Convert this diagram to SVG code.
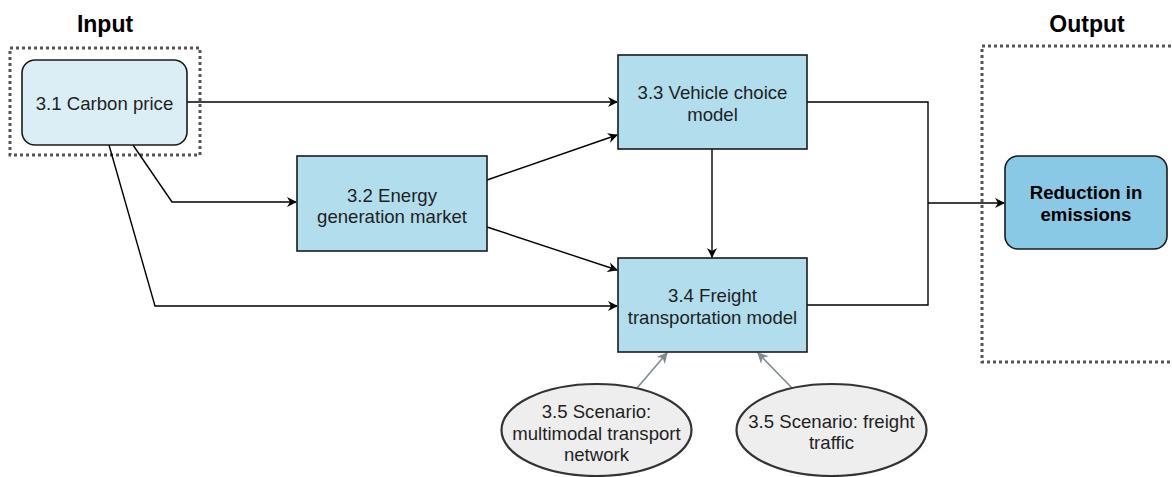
<svg xmlns="http://www.w3.org/2000/svg" width="1172" height="477" viewBox="0 0 1172 477">
  <style>
    .lbl { font-family: "Liberation Sans", Arial, sans-serif; font-size: 18.6px; fill: #1f1f1f; text-anchor: middle; }
    .ttl { font-family: "Liberation Sans", Arial, sans-serif; font-size: 23px; font-weight: bold; fill: #000; text-anchor: middle; }
    .bold { font-weight: bold; fill: #000; }
    .box { fill: #b1dded; stroke: #1a1a1a; stroke-width: 1.6; }
    .frame { fill: none; stroke: #555; stroke-width: 3; stroke-dasharray: 3 3; }
    .edge { fill: none; stroke: #000; stroke-width: 1.4; }
    .gray { fill: none; stroke: #7f8a90; stroke-width: 1.6; }
    .scn { fill: #eeeeee; stroke: #333; stroke-width: 2.2; }
  </style>
  <defs>
    <marker id="arr" viewBox="0 0 10 10" refX="9" refY="5" markerWidth="10" markerHeight="10" markerUnits="userSpaceOnUse" orient="auto">
      <path d="M0,0 L10,5 L0,10 L3,5 Z" fill="#000"/>
    </marker>
    <marker id="arrGray" viewBox="0 0 10 10" refX="9" refY="5" markerWidth="11" markerHeight="11" markerUnits="userSpaceOnUse" orient="auto">
      <path d="M0,0 L10,5 L0,10 L3,5 Z" fill="#7f8a90"/>
    </marker>
  </defs>

  <rect width="1172" height="477" fill="#ffffff"/>

  <!-- headings and dotted frames -->
  <text class="ttl" x="105" y="32">Input</text>
  <text class="ttl" x="1087" y="32">Output</text>
  <rect class="frame" x="10" y="48" width="190" height="107"/>
  <rect class="frame" x="982" y="46" width="200" height="316"/>

  <!-- connectors -->
  <g id="connectors">
    <path class="edge" d="M187,102 L617,102" marker-end="url(#arr)"/>
    <path class="edge" d="M133,145 L172,202 L296,202" marker-end="url(#arr)"/>
    <path class="edge" d="M109,145 L155,306 L617,306" marker-end="url(#arr)"/>
    <path class="edge" d="M487,180 L617,135" marker-end="url(#arr)"/>
    <path class="edge" d="M487,227 L617,270" marker-end="url(#arr)"/>
    <path class="edge" d="M712,149 L712,257" marker-end="url(#arr)"/>
    <path class="edge" d="M807,102 L928,102 L928,305 L807,305"/>
    <path class="edge" d="M928,203 L1004,203" marker-end="url(#arr)"/>
    <path class="gray" d="M637,388 L667,353" marker-end="url(#arrGray)"/>
    <path class="gray" d="M792,388 L758,353" marker-end="url(#arrGray)"/>
  </g>

  <g id="carbon-price">
    <rect x="22" y="60" width="165" height="85" rx="13" fill="#dbeef6" stroke="#1a1a1a" stroke-width="1.6"/>
    <text class="lbl" x="104.5" y="109.5">3.1 Carbon price</text>
  </g>

  <g id="energy-market">
    <rect class="box" x="297" y="156" width="190" height="95"/>
    <text class="lbl" x="392" y="202">3.2 Energy</text>
    <text class="lbl" x="392" y="223">generation market</text>
  </g>

  <g id="vehicle-choice">
    <rect class="box" x="618" y="55" width="189" height="94"/>
    <text class="lbl" x="712.5" y="99">3.3 Vehicle choice</text>
    <text class="lbl" x="712.5" y="121">model</text>
  </g>

  <g id="freight-model">
    <rect class="box" x="618" y="258" width="189" height="94"/>
    <text class="lbl" x="712.5" y="302">3.4 Freight</text>
    <text class="lbl" x="712.5" y="323.5">transportation model</text>
  </g>

  <g id="reduction">
    <rect x="1005" y="156" width="162" height="93" rx="13" fill="#89c9e6" stroke="#1a1a1a" stroke-width="1.6"/>
    <text class="lbl bold" x="1086" y="199">Reduction in</text>
    <text class="lbl bold" x="1086" y="221">emissions</text>
  </g>

  <g id="scenario-network">
    <ellipse class="scn" cx="596.5" cy="430" rx="95" ry="46"/>
    <text class="lbl" x="596.5" y="418">3.5 Scenario:</text>
    <text class="lbl" x="596.5" y="440">multimodal transport</text>
    <text class="lbl" x="596.5" y="461">network</text>
  </g>

  <g id="scenario-traffic">
    <ellipse class="scn" cx="831.5" cy="430" rx="95" ry="46"/>
    <text class="lbl" x="831.5" y="428">3.5 Scenario: freight</text>
    <text class="lbl" x="831.5" y="449">traffic</text>
  </g>
</svg>
